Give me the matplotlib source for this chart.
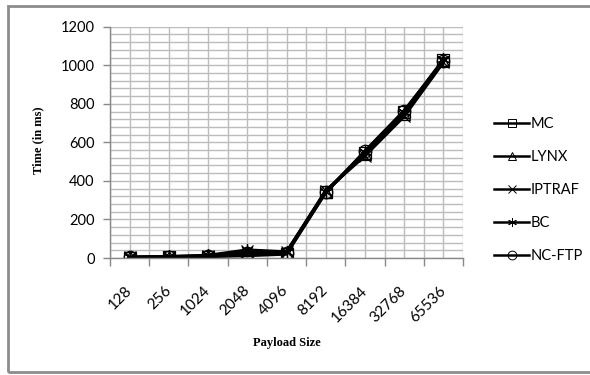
import matplotlib
matplotlib.use("Agg")
import matplotlib.pyplot as plt
from matplotlib.patches import Rectangle
import numpy as np

payload = ['128', '256', '1024', '2048', '4096', '8192', '16384', '32768', '65536']

mc = [2, 5, 7, 12, 20, 340, 545, 755, 1025]
lynx = [3, 6, 10, 30, 28, 345, 540, 745, 1020]
iptraf = [4, 7, 12, 35, 30, 350, 530, 735, 1015]
bc = [5, 8, 14, 42, 32, 345, 550, 760, 1030]
ncftp = [3, 6, 9, 25, 26, 340, 555, 765, 1022]

series = [('MC', mc, 's'), ('LYNX', lynx, '^'), ('IPTRAF', iptraf, 'x'),
          ('BC', bc, (6, 2, 0)), ('NC-FTP', ncftp, 'o')]

fig = plt.figure(figsize=(5.9, 3.75), dpi=100)
ax = fig.add_axes([110/590, 117/375, 353/590, 231.3/375])

x = np.arange(len(payload))
for name, vals, m in series:
    ax.plot(x, vals, color='black', lw=2.2, marker=m, markersize=9,
            markerfacecolor='none', markeredgecolor='black', markeredgewidth=0.9,
            label=name)

ax.set_xlim(-0.5, len(payload) - 0.5)
ax.set_ylim(0, 1200)

# x: labels at centers, tick marks at boundaries
ax.set_xticks(x)
ax.set_xticklabels(payload, rotation=45, ha='right', va='center',
                   rotation_mode='anchor', fontfamily='Lato', fontsize=11)
ax.set_xticks(np.arange(-0.5, len(payload)), minor=True)
ax.tick_params(axis='x', which='major', length=0, pad=22)
ax.tick_params(axis='x', which='minor', length=6, color='#888888', width=1)

ax.set_yticks(np.arange(0, 1201, 200))
ax.set_yticks(np.arange(0, 1201, 40), minor=True)
ax.tick_params(axis='y', which='major', length=5, color='#888888', width=1,
               labelsize=10.5, pad=6)
ax.tick_params(axis='y', which='minor', length=0)
for lab in ax.get_yticklabels():
    lab.set_fontfamily('Lato')

ax.grid(True, which='both', color='#bcbcbc', lw=1)
ax.set_axisbelow(True)
for s in ['top', 'right']:
    ax.spines[s].set_visible(False)
for s in ['left', 'bottom']:
    ax.spines[s].set_color('#888888')
    ax.spines[s].set_linewidth(1)

fig.text(38/590, 1 - 140/375, 'Time (in ms)', rotation=90, ha='center', va='center',
         fontfamily='Liberation Serif', fontweight='bold', fontsize=9)
fig.text(287/590, 1 - 343/375, 'Payload Size', ha='center', va='center',
         fontfamily='Liberation Serif', fontweight='bold', fontsize=9)

leg = fig.legend(loc='center left', bbox_to_anchor=(487/590, 1 - 190/375), frameon=False,
                 borderpad=0, handlelength=2.4, handletextpad=0.1, labelspacing=1.3,
                 markerscale=0.7, prop={'family': 'Lato', 'size': 10.5})
for h in leg.legend_handles:
    h.set_linewidth(1.8)
    h.set_markeredgewidth(0.7)

fig.patches.append(Rectangle((8/590, 1 - 372/375), 0.99, 366/375,
                             transform=fig.transFigure, fill=False,
                             edgecolor='#8c8c8c', lw=2))

fig.savefig('out.png', dpi=100)
